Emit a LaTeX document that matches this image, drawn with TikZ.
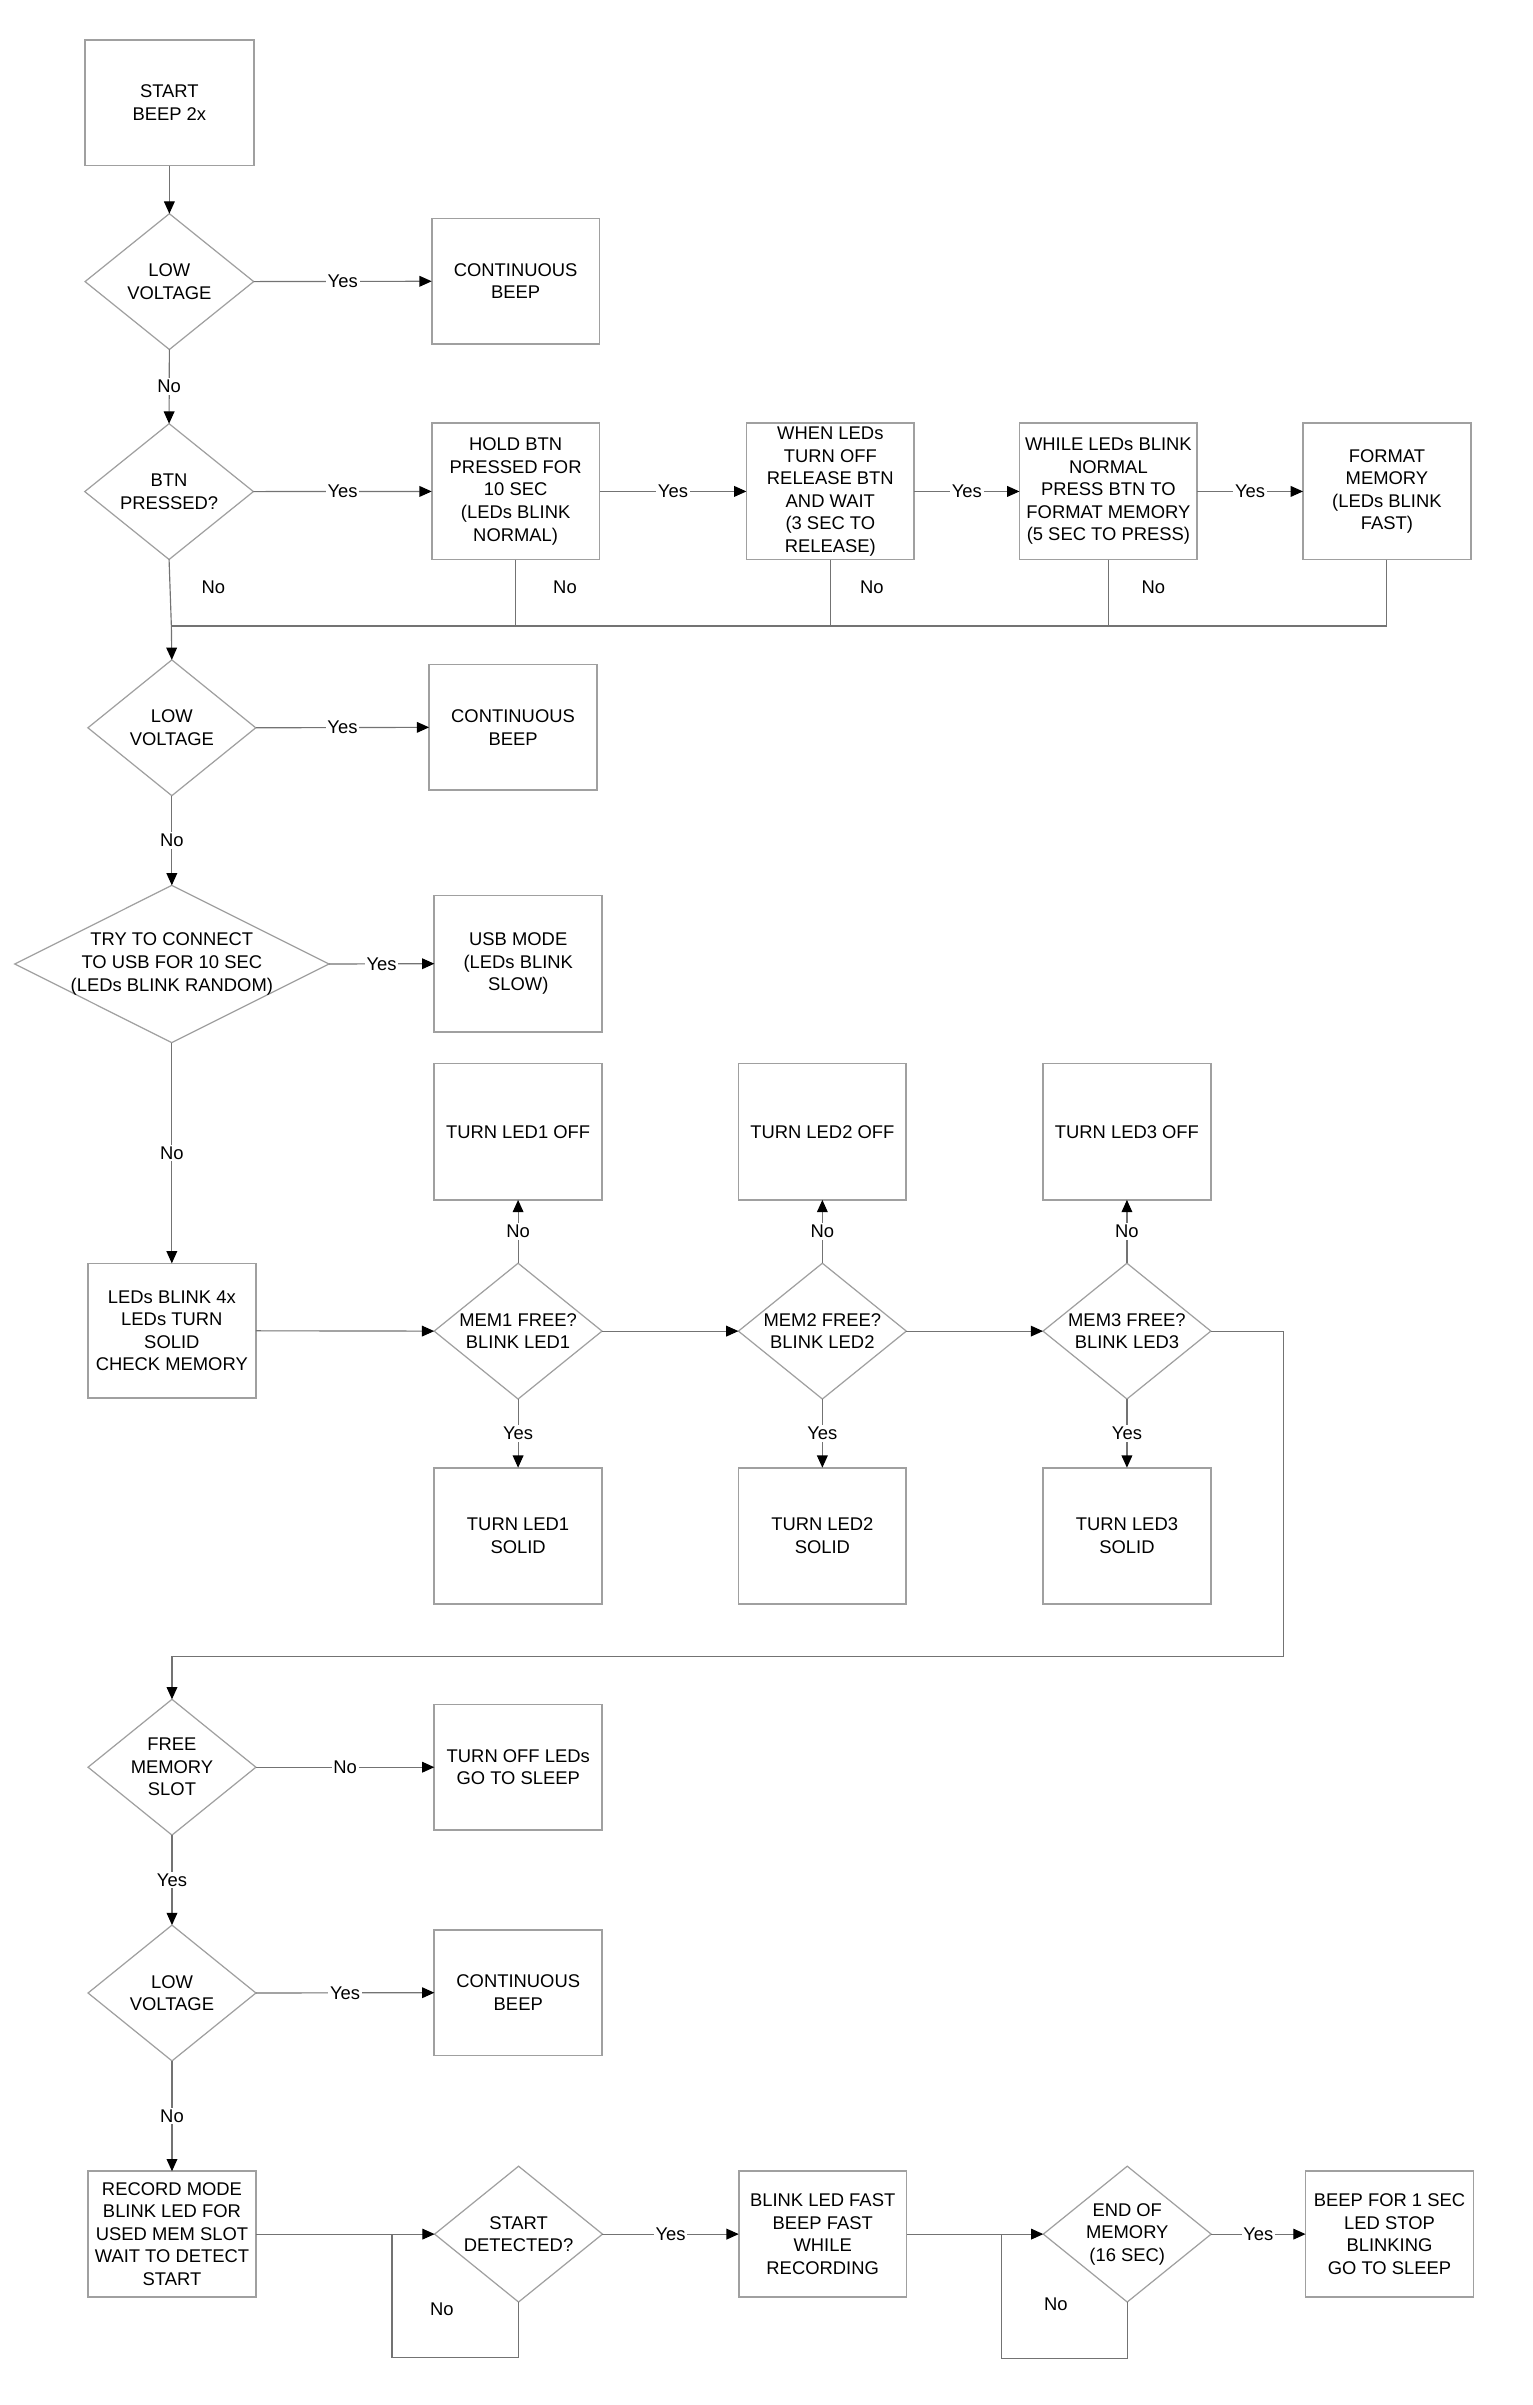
\documentclass[tikz,border=0pt]{standalone}
\usepackage{fontspec}
\setmainfont{Liberation Sans}
\usetikzlibrary{arrows.meta,shapes.geometric}
\definecolor{boxgray}{RGB}{160,160,160}
\definecolor{linegray}{RGB}{115,115,115}
\begin{document}
\begin{tikzpicture}[x=1pt,y=-1pt, font=\fontsize{12}{14.7}\selectfont,
  proc/.style={draw=boxgray, line width=1.1pt, inner sep=0pt, outer sep=0pt, align=center, minimum width=109.5pt, minimum height=88.5pt},
  dec/.style={diamond, draw=boxgray, line width=0.8pt, inner sep=0pt, outer sep=0pt, minimum width=109.5pt, minimum height=88.6pt},
  txt/.style={align=center},
  conn/.style={draw=linegray, line width=0.75pt},
  arr/.style={conn, -{Triangle[length=8pt,width=7pt,color=black,fill=black]}},
  lab/.style={fill=white, inner sep=1.2pt}]

\fill[white] (0,0) rectangle (1000,1569);
\useasboundingbox (0,0) rectangle (1000,1569);

% ---------- top part ----------
\node[proc, minimum width=110pt, minimum height=82pt] (start) at (110.5,67) {START\\BEEP 2x};
\node[dec, minimum width=110pt, label={[txt]center:{LOW\\VOLTAGE}}] (d1) at (110.5,183.7) {};
\node[proc, minimum height=82pt] (cb1) at (336.4,183.5) {CONTINUOUS\\BEEP};
\node[dec, minimum width=110pt, label={[txt]center:{BTN\\PRESSED?}}] (d2) at (110.3,320.7) {};
\node[proc, minimum height=89pt] (hold) at (336.4,320.6) {HOLD BTN\\PRESSED FOR\\10 SEC\\(LEDs BLINK\\NORMAL)};
\node[proc, minimum height=89pt] (when) at (541.7,320.6) {WHEN LEDs\\TURN OFF\\RELEASE BTN\\AND WAIT\\(3 SEC TO\\RELEASE)};
\node[proc, minimum height=89pt, minimum width=116pt] (while) at (723.1,320.6) {WHILE LEDs BLINK\\NORMAL\\PRESS BTN TO\\FORMAT MEMORY\\(5 SEC TO PRESS)};
\node[proc, minimum height=89pt] (fmt) at (904.8,320.6) {FORMAT\\MEMORY\\(LEDs BLINK\\FAST)};
\coordinate (busL) at (111.8,408.4);

\node[dec, label={[txt]center:{LOW\\VOLTAGE}}] (d3) at (112.1,474.8) {};
\node[proc, minimum height=82pt] (cb2) at (334.7,474.5) {CONTINUOUS\\BEEP};
\node[dec, minimum width=205pt, minimum height=102.6pt, label={[txt]center:{TRY TO CONNECT\\TO USB FOR 10 SEC\\(LEDs BLINK RANDOM)}}] (d4) at (112.1,628.9) {};
\node[proc, minimum height=89pt] (usb) at (338.1,628.7) {USB MODE\\(LEDs BLINK\\SLOW)};

% ---------- memory check ----------
\node[proc, minimum height=88pt] (leds) at (112.1,868.2) {LEDs BLINK 4x\\LEDs TURN\\SOLID\\CHECK MEMORY};
\node[dec, label={[txt]center:{MEM1 FREE?\\BLINK LED1}}] (m1) at (338,868.4) {};
\node[dec, label={[txt]center:{MEM2 FREE?\\BLINK LED2}}] (m2) at (536.5,868.4) {};
\node[dec, label={[txt]center:{MEM3 FREE?\\BLINK LED3}}] (m3) at (735.2,868.4) {};
\node[proc, minimum height=89pt] (off1) at (338,738.3) {TURN LED1 OFF};
\node[proc, minimum height=89pt] (off2) at (536.5,738.3) {TURN LED2 OFF};
\node[proc, minimum height=89pt] (off3) at (735.2,738.3) {TURN LED3 OFF};
\node[proc, minimum height=89pt] (sol1) at (338,1002) {TURN LED1\\SOLID};
\node[proc, minimum height=89pt] (sol2) at (536.5,1002) {TURN LED2\\SOLID};
\node[proc, minimum height=89pt] (sol3) at (735.2,1002) {TURN LED3\\SOLID};
\coordinate (r1) at (837.6,868.4);
\coordinate (r2) at (837.6,1080.4);
\coordinate (r3) at (112.2,1080.4);

% ---------- recording ----------
\node[dec, label={[txt]center:{FREE\\MEMORY\\SLOT}}] (d5) at (112.2,1152.9) {};
\node[proc, minimum height=82pt] (sleep) at (338.1,1152.9) {TURN OFF LEDs\\GO TO SLEEP};
\node[dec, label={[txt]center:{LOW\\VOLTAGE}}] (d6) at (112.2,1300.2) {};
\node[proc, minimum height=82pt] (cb3) at (338.1,1300) {CONTINUOUS\\BEEP};
\node[proc, minimum height=82pt] (rec) at (112.2,1457.5) {RECORD MODE\\BLINK LED FOR\\USED MEM SLOT\\WAIT TO DETECT\\START};
\node[dec, label={[txt]center:{START\\DETECTED?}}] (sd) at (338.3,1457.5) {};
\node[proc, minimum height=82pt] (blink) at (536.7,1457.5) {BLINK LED FAST\\BEEP FAST\\WHILE\\RECORDING};
\node[dec, label={[txt]center:{END OF\\MEMORY\\(16 SEC)}}] (eom) at (735.4,1457.5) {};
\node[proc, minimum height=82pt] (beep) at (906.5,1457.5) {BEEP FOR 1 SEC\\LED STOP\\BLINKING\\GO TO SLEEP};
\coordinate (lp1) at (255.7,1538);
\coordinate (lp2) at (653.2,1538.8);

% ---------- connectors ----------
\draw[arr] (start.south) -- (d1.north);
\draw[arr] (d1.east) -- node[lab] {Yes} (cb1.west);
\draw[arr] (d1.south) -- node[lab] {No} (d2.north);
\draw[arr] (d2.east) -- node[lab] {Yes} (hold.west);
\draw[arr] (hold.east) -- node[lab] {Yes} (when.west);
\draw[arr] (when.east) -- node[lab] {Yes} (while.west);
\draw[arr] (while.east) -- node[lab] {Yes} (fmt.west);

\draw[conn] (d2.south) -- (busL);
\draw[conn] (hold.south) -- (hold.south |- busL);
\draw[conn] (when.south) -- (when.south |- busL);
\draw[conn] (while.south) -- (while.south |- busL);
\draw[conn] (fmt.south) -- (fmt.south |- busL) -- (busL);
\node (no1) at (139.2,382.8) {No};
\node (no2) at (368.6,382.8) {No};
\node (no3) at (568.8,382.8) {No};
\node (no4) at (752.5,382.8) {No};
\draw[arr] (busL) -- (d3.north);

\draw[arr] (d3.east) -- node[lab] {Yes} (cb2.west);
\draw[arr] (d3.south) -- node[lab] {No} (d4.north);
\draw[arr] (d4.east) -- node[lab] {Yes} (usb.west);
\draw[arr] (d4.south) -- node[lab] {No} (leds.north);

\draw[arr] (leds.east) -- (m1.west);
\draw[arr] (m1.east) -- (m2.west);
\draw[arr] (m2.east) -- (m3.west);
\draw[arr] (m1.north) -- node[lab] {No} (off1.south);
\draw[arr] (m2.north) -- node[lab] {No} (off2.south);
\draw[arr] (m3.north) -- node[lab] {No} (off3.south);
\draw[arr] (m1.south) -- node[lab] {Yes} (sol1.north);
\draw[arr] (m2.south) -- node[lab] {Yes} (sol2.north);
\draw[arr] (m3.south) -- node[lab] {Yes} (sol3.north);
\draw[arr] (m3.east) -- (r1) -- (r2) -- (r3) -- (d5.north);

\draw[arr] (d5.east) -- node[lab] {No} (sleep.west);
\draw[arr] (d5.south) -- node[lab] {Yes} (d6.north);
\draw[arr] (d6.east) -- node[lab] {Yes} (cb3.west);
\draw[arr] (d6.south) -- node[lab] {No} (rec.north);

\draw[arr] (rec.east) -- (sd.west);
\draw[conn] (sd.south) -- (sd.south |- lp1) -- (lp1) -- (lp1 |- sd.west);
\node (no5) at (288.3,1506.5) {No};
\draw[arr] (sd.east) -- node[lab] {Yes} (blink.west);
\draw[arr] (blink.east) -- (eom.west);
\draw[conn] (eom.south) -- (eom.south |- lp2) -- (lp2) -- (lp2 |- eom.west);
\node (no6) at (688.9,1503) {No};
\draw[arr] (eom.east) -- node[lab] {Yes} (beep.west);
\end{tikzpicture}
\end{document}
